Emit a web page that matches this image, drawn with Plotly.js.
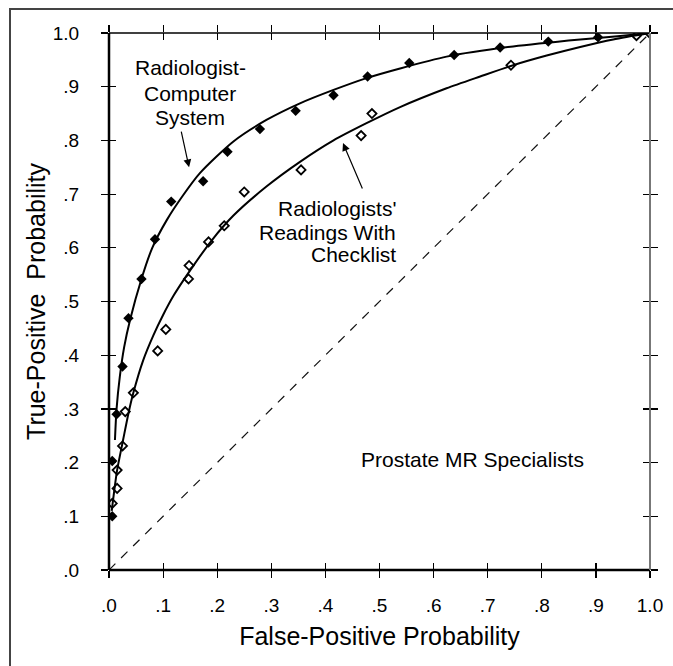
<!DOCTYPE html>
<html>
<head>
<meta charset="utf-8">
<script src="https://cdn.plot.ly/plotly-3.0.1.min.js"></script>
<style>
  html, body { margin: 0; padding: 0; background: #fff; }
  #wrap { position: relative; width: 673px; height: 666px; overflow: hidden; }
  #chart { position: absolute; left: 0; top: 0; width: 673px; height: 666px; }
  #frame { position: absolute; left: 9px; top: 8px; width: 700px; height: 700px;
           border-left: 2px solid #444; border-top: 2px solid #444; pointer-events: none; }
</style>
</head>
<body>
<div id="wrap">
  <div id="chart"></div>
  <div id="frame"></div>
</div>
<script>
// Tick values / labels
const tickVals = [0, 0.1, 0.2, 0.3, 0.4, 0.5, 0.6, 0.7, 0.8, 0.9, 1.0];
const tickText = ['.0', '.1', '.2', '.3', '.4', '.5', '.6', '.7', '.8', '.9', '1.0'];

// Radiologist-Computer System: observed operating points (filled diamonds)
const compPtsX = [0.006, 0.006, 0.014, 0.025, 0.036, 0.060, 0.085, 0.115, 0.174, 0.219, 0.279, 0.345, 0.415, 0.478, 0.555, 0.638, 0.723, 0.812, 0.904];
const compPtsY = [0.100, 0.203, 0.290, 0.379, 0.469, 0.542, 0.616, 0.686, 0.724, 0.779, 0.821, 0.855, 0.884, 0.919, 0.944, 0.959, 0.973, 0.984, 0.992];

// Radiologist-Computer System: fitted curve
const compCurveX = [0.011, 0.014, 0.020, 0.028, 0.039, 0.060, 0.080, 0.107, 0.135, 0.168, 0.230, 0.291, 0.353, 0.415, 0.476, 0.538, 0.624, 0.747, 0.871, 0.940, 1.000];
const compCurveY = [0.242, 0.300, 0.360, 0.415, 0.466, 0.542, 0.600, 0.652, 0.695, 0.739, 0.798, 0.838, 0.869, 0.894, 0.916, 0.934, 0.956, 0.975, 0.988, 0.994, 1.000];

// Radiologists' Readings With Checklist: observed points (open diamonds)
const checkPtsX = [0.006, 0.015, 0.015, 0.025, 0.030, 0.045, 0.090, 0.105, 0.147, 0.148, 0.184, 0.213, 0.250, 0.355, 0.466, 0.486, 0.743, 0.975, 0.999];
const checkPtsY = [0.124, 0.152, 0.186, 0.231, 0.295, 0.330, 0.408, 0.448, 0.542, 0.567, 0.611, 0.641, 0.704, 0.745, 0.809, 0.850, 0.940, 0.995, 1.000];

// Radiologists' Readings With Checklist: fitted curve
const checkCurveX = [0.005, 0.010, 0.015, 0.026, 0.036, 0.045, 0.063, 0.082, 0.100, 0.120, 0.150, 0.190, 0.230, 0.291, 0.353, 0.415, 0.476, 0.538, 0.624, 0.686, 0.747, 0.809, 0.871, 0.932, 1.000];
const checkCurveY = [0.110, 0.150, 0.186, 0.242, 0.292, 0.330, 0.390, 0.437, 0.475, 0.512, 0.558, 0.614, 0.660, 0.714, 0.760, 0.800, 0.832, 0.862, 0.897, 0.919, 0.940, 0.958, 0.974, 0.988, 1.000];

// Chance line
const diagX = [0, 1];
const diagY = [0, 1];

// Annotation texts
const labelComp = ['Radiologist-', 'Computer', 'System'];
const labelCheck = ["Radiologists'", 'Readings With', 'Checklist'];
const labelGroup = 'Prostate MR Specialists';

const FONT = 'Liberation Sans, Arial, Helvetica, sans-serif';

const traces = [
  { x: diagX, y: diagY, mode: 'lines', line: { color: '#111', width: 1.2, dash: '9px,8px' },
    showlegend: false, hoverinfo: 'skip' },
  { x: compCurveX, y: compCurveY, mode: 'lines', line: { color: '#000', width: 2, shape: 'spline', smoothing: 0.7 },
    showlegend: false },
  { x: checkCurveX, y: checkCurveY, mode: 'lines', line: { color: '#000', width: 2, shape: 'spline', smoothing: 0.7 },
    showlegend: false },
  { x: compPtsX, y: compPtsY, mode: 'markers', marker: { symbol: 'diamond', size: 8, color: '#000' },
    showlegend: false },
  { x: checkPtsX, y: checkPtsY, mode: 'markers',
    marker: { symbol: 'diamond-open', size: 7, color: '#000', line: { width: 1.8, color: '#000' } },
    showlegend: false },
  { x: [null], y: [null], xaxis: 'x2', yaxis: 'y2', mode: 'markers', showlegend: false, hoverinfo: 'skip' }
];

const axBase = {
  range: [0, 1], tickvals: tickVals, ticktext: tickText, showgrid: false, zeroline: false,
  showline: false, ticklen: 7, tickwidth: 1.2, tickcolor: '#000', fixedrange: true
};

const annFont = { family: FONT, size: 21, color: '#000' };
const compLineY = [0.935, 0.888, 0.842];
const checkLineY = [0.674, 0.629, 0.587];

const annotations = [];
labelComp.forEach((t, i) => annotations.push({
  x: 0.15, y: compLineY[i], xref: 'x', yref: 'y', text: t, showarrow: false,
  xanchor: 'center', yanchor: 'middle', font: annFont
}));
labelCheck.forEach((t, i) => annotations.push({
  x: 0.534, y: checkLineY[i], xref: 'x', yref: 'y', text: t, showarrow: false,
  xanchor: 'right', yanchor: 'middle', font: annFont
}));
annotations.push(
  { x: 0.148, y: 0.750, ax: 0.133, ay: 0.819, xref: 'x', yref: 'y', axref: 'x', ayref: 'y',
    text: '', showarrow: true, arrowhead: 2, arrowsize: 1.3, arrowwidth: 1.2, arrowcolor: '#000' },
  { x: 0.4325, y: 0.795, ax: 0.4695, ay: 0.7076, xref: 'x', yref: 'y', axref: 'x', ayref: 'y',
    text: '', showarrow: true, arrowhead: 2, arrowsize: 1.3, arrowwidth: 1.2, arrowcolor: '#000' },
  { x: 0.671, y: 0.205, xref: 'x', yref: 'y', text: labelGroup, showarrow: false,
    xanchor: 'center', yanchor: 'middle', font: annFont }
);

const layout = {
  width: 673, height: 666,
  margin: { l: 109, r: 23, t: 33, b: 96 },
  paper_bgcolor: 'rgba(0,0,0,0)', plot_bgcolor: '#fff',
  font: { family: FONT, color: '#000', size: 19 },
  showlegend: false,
  xaxis: Object.assign({}, axBase, {
    ticks: 'outside', mirror: 'ticks', ticklabelstandoff: 11,
    tickfont: { family: FONT, size: 19, color: '#000' },
    title: { text: 'False-Positive Probability', font: { family: FONT, size: 25, color: '#000' }, standoff: 12 }
  }),
  yaxis: Object.assign({}, axBase, {
    ticks: 'outside', mirror: 'ticks', ticklabelstandoff: 18,
    tickfont: { family: FONT, size: 19, color: '#000' },
    title: { text: 'True-Positive\u00a0 Probability', font: { family: FONT, size: 25, color: '#000' }, standoff: 0 }
  }),
  xaxis2: Object.assign({}, axBase, { overlaying: 'x', ticks: 'inside', mirror: 'ticks', showticklabels: false }),
  yaxis2: Object.assign({}, axBase, { overlaying: 'y', ticks: 'inside', mirror: 'ticks', showticklabels: false }),
  shapes: [
    { type: 'line', xref: 'paper', yref: 'paper', x0: 0, x1: 1, y0: 0, y1: 0, line: { color: '#000', width: 2.5 } },
    { type: 'line', xref: 'paper', yref: 'paper', x0: 0, x1: 0, y0: 0, y1: 1, line: { color: '#000', width: 2.5 } },
    { type: 'line', xref: 'paper', yref: 'paper', x0: 0, x1: 1, y0: 1, y1: 1, line: { color: '#000', width: 1.5 } },
    { type: 'line', xref: 'paper', yref: 'paper', x0: 1, x1: 1, y0: 0, y1: 1, line: { color: '#777', width: 2 } }
  ],
  annotations: annotations
};

Plotly.newPlot('chart', traces, layout, { displayModeBar: false, staticPlot: true });
</script>
</body>
</html>
